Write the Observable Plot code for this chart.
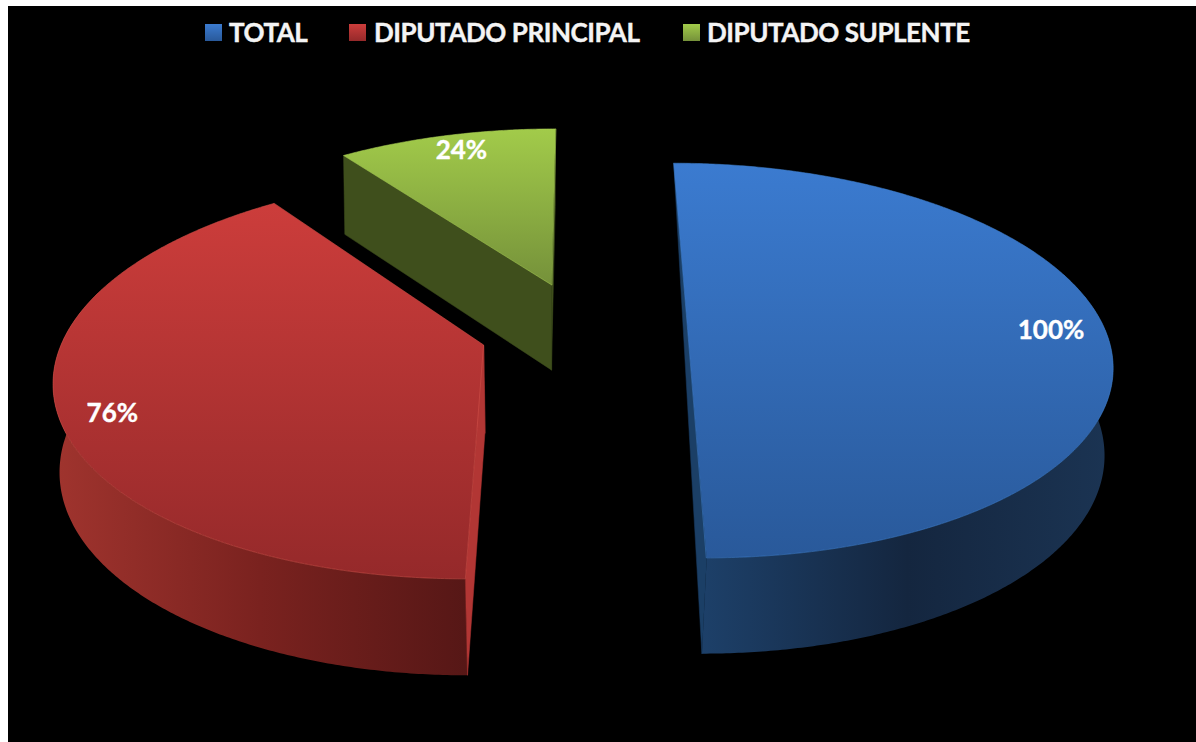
<!DOCTYPE html>
<html><head><meta charset="utf-8">
<script src="https://cdn.jsdelivr.net/npm/d3@7"></script>
<script src="https://cdn.jsdelivr.net/npm/@observablehq/plot@0.6"></script>
<style>
html,body{margin:0;padding:0;background:#fff;overflow:hidden}
#wrap{position:absolute;left:8px;top:6px;width:1188px;height:736px;background:#000}
#legend{position:relative;height:54px;width:1188px;font-family:Lato,sans-serif;font-weight:700;color:#f4f4f4}
#legend .sw{position:absolute;top:18px;width:17px;height:17px}
#legend .tx{position:absolute;top:10px;font-size:26px;line-height:32px;white-space:nowrap;letter-spacing:-0.45px;-webkit-text-stroke:0.4px #f4f4f4}
#chart svg{display:block}
</style></head><body>
<div id="wrap"><div id="legend"></div><div id="chart"></div></div>
<script>
const seriesNames = ["TOTAL", "DIPUTADO PRINCIPAL", "DIPUTADO SUPLENTE"];
const percentLabels = [100, 76, 24];
// share of the circle each drawn slice really occupies
const sliceShares = [50, 40, 10];
const sliceExplosion = [0.2491, 0.2491, 0.257];
const labelRadius = [0.87, 0.885, 0.885];
const labelAngleNudge = [0, -3.8, 0.8];
const topColors = [["#3b7bd0", "#29599a"], ["#cc3d3b", "#95292a"], ["#a2cb4a", "#75913a"]];
const wallColors = [["#1d4069", "#14263f", "#1b3453"], ["#a0342e", "#7a221f", "#561716"], ["#46581f", "#3e4f1c", "#3e4f1c"]];
const faceColors = ["#1b3f66", "#b23634", "#3f4f1c"];
const rimColors = ["#3f7fcc", "#d2504a", "#a8cf55"];

// pie camera: one perspective projection shared by all slices
const view = {R: 428, k: 0.157, q: 0.0256, ox: 582, oy: 361, vanishY: -928, nadirX: 540, nadirY: 3900,
              cu: 0.0027, cv: 0.158, wallBulge: 0.014};
function project(u, v, h) {
  const kv = view.k * v, qh = view.q * h, w = 1 + kv + qh;
  return {
    x: (view.ox * (1 + kv) + view.R * u + qh * view.nadirX) / w,
    y: (view.oy + kv * view.vanishY + qh * view.nadirY) / w
  };
}
let acc = 0;
const slices = sliceShares.map((s, i) => {
  const a0 = acc / 100 * 2 * Math.PI; acc += s;
  const a1 = acc / 100 * 2 * Math.PI, mid = (a0 + a1) / 2;
  return {i, a0, a1, mid,
    cu: view.cu + sliceExplosion[i] * Math.sin(mid),
    cv: view.cv + sliceExplosion[i] * Math.cos(mid)};
});
const rim = (sl, a, h) => project(sl.cu + Math.sin(a) * (1 + h * view.wallBulge), sl.cv + Math.cos(a), h);
const apex = (sl, h) => project(sl.cu, sl.cv, h);
// sample the outer edge; wall outlines keep only the side that faces the viewer
function arc(sl, h, frontOnly) {
  const n = Math.ceil((sl.a1 - sl.a0) * 120), out = [];
  for (let j = 0; j <= n; j++) {
    const a = sl.a0 + (sl.a1 - sl.a0) * j / n;
    if (!frontOnly || Math.cos(a) < 0.3) out.push(rim(sl, a, h));
  }
  return out;
}
const closed = {curve: "linear-closed", x: "x", y: "y"};

const marks = [];
// gradient definitions
marks.push(() => {
  const g = d3.create("svg:defs");
  const grad = (id, horizontal, stops) => {
    const l = g.append("linearGradient").attr("id", id)
      .attr("x1", 0).attr("y1", 0).attr("x2", horizontal ? 1 : 0).attr("y2", horizontal ? 0 : 1);
    stops.forEach((c, i) => l.append("stop").attr("offset", i / (stops.length - 1)).attr("stop-color", c));
  };
  topColors.forEach((c, i) => grad("top" + i, false, c));
  wallColors.forEach((c, i) => grad("wall" + i, true, c));
  return g.node();
});
slices.forEach(sl => {
  const i = sl.i;
  // outer wall
  const wallTop = arc(sl, 0, true), wallBot = arc(sl, 1, true).reverse();
  if (wallTop.length) marks.push(Plot.line(wallTop.concat(wallBot), {...closed, fill: `url(#wall${i})`, stroke: "none"}));
  // cut faces: the half-disc shows its straight cut as a single sliver
  const faces = sl.a1 - sl.a0 >= Math.PI - 1e-6
    ? [[rim(sl, sl.a0, 0), rim(sl, sl.a1, 0), rim(sl, sl.a1, 1)]]
    : [sl.a0, sl.a1].map(a => [apex(sl, 0), rim(sl, a, 0), rim(sl, a, 1), apex(sl, 1)]);
  faces.forEach(face => marks.push(Plot.line(face, {...closed, fill: faceColors[i], stroke: faceColors[i], strokeWidth: 0.5})));
  // top surface
  marks.push(Plot.line([apex(sl, 0), ...arc(sl, 0, false)], {...closed, fill: `url(#top${i})`, stroke: rimColors[i], strokeWidth: 0.7, strokeOpacity: 0.8}));
});
// value labels, placed near each slice's bisector
const labelRows = slices.map(sl => {
  const a = sl.mid + labelAngleNudge[sl.i] * Math.PI / 180, r = labelRadius[sl.i];
  return {...project(sl.cu + r * Math.sin(a), sl.cv + r * Math.cos(a), 0), t: percentLabels[sl.i] + "%"};
});
marks.push(Plot.text(labelRows, {x: "x", y: "y", text: "t", fill: "#fff", stroke: "#fff", strokeWidth: 0.4,
  fontSize: 26, fontWeight: 700, fontFamily: "Lato, sans-serif", textAnchor: "middle", lineAnchor: "middle"}));

const plot = Plot.plot({
  width: 1188, height: 682, margin: 0,
  style: {background: "#000"},
  x: {domain: [8, 1196], range: [0, 1188], axis: null},
  y: {domain: [60, 742], range: [0, 682], axis: null},
  marks
});
document.getElementById("chart").append(plot);

// legend
const legendX = [[197, 221], [341, 366], [675, 699]];
const legend = document.getElementById("legend");
seriesNames.forEach((name, i) => {
  const sw = document.createElement("div");
  sw.className = "sw"; sw.style.left = legendX[i][0] + "px";
  sw.style.background = `linear-gradient(${topColors[i][0]},${topColors[i][1]})`;
  const tx = document.createElement("div");
  tx.className = "tx"; tx.style.left = legendX[i][1] + "px"; tx.textContent = name;
  legend.append(sw, tx);
});
</script></body></html>
